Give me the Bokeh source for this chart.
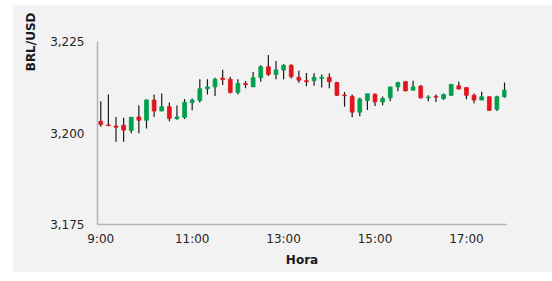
import numpy as np
from bokeh.plotting import figure
from bokeh.models import (ColumnDataSource, FixedTicker, Range1d, Title, Spacer,
                          CustomJSTickFormatter)
from bokeh.layouts import row, column
from bokeh.embed import file_html
from bokeh.resources import INLINE

# ---- data ----
times = ["9:00", "9:10", "9:20", "9:30", "9:40", "9:50",
         "10:00", "10:10", "10:20", "10:30", "10:40", "10:50",
         "11:00", "11:10", "11:20", "11:30", "11:40", "11:50",
         "12:00", "12:10", "12:20", "12:30", "12:40", "12:50",
         "13:00", "13:10", "13:20", "13:30", "13:40", "13:50",
         "14:00", "14:10", "14:20", "14:30", "14:40", "14:50",
         "15:00", "15:10", "15:20", "15:30", "15:40", "15:50",
         "16:00", "16:10", "16:20", "16:30", "16:40", "16:50",
         "17:00", "17:10", "17:20", "17:30", "17:40", "17:50"]

open_ = [3.2032, 3.2022, 3.2019, 3.2021, 3.2007, 3.2044, 3.2035, 3.2090, 3.2060, 3.2072,
         3.2039, 3.2043, 3.2083, 3.2089, 3.2121, 3.2126, 3.2150, 3.2147, 3.2111, 3.2135,
         3.2126, 3.2151, 3.2181, 3.2160, 3.2172, 3.2185, 3.2152, 3.2143, 3.2143, 3.2149,
         3.2152, 3.2138, 3.2104, 3.2100, 3.2057, 3.2089, 3.2106, 3.2085, 3.2096, 3.2126,
         3.2140, 3.2117, 3.2128, 3.2096, 3.2100, 3.2094, 3.2103, 3.2129, 3.2124, 3.2103,
         3.2090, 3.2099, 3.2065, 3.2099]
high = [3.2087, 3.2105, 3.2044, 3.2042, 3.2044, 3.2076, 3.2092, 3.2105, 3.2108, 3.2083,
        3.2075, 3.2093, 3.2094, 3.2147, 3.2147, 3.2151, 3.2173, 3.2154, 3.2147, 3.2142,
        3.2167, 3.2185, 3.2213, 3.2197, 3.2188, 3.2188, 3.2170, 3.2164, 3.2163, 3.2160,
        3.2163, 3.2140, 3.2112, 3.2105, 3.2096, 3.2107, 3.2108, 3.2100, 3.2126, 3.2140,
        3.2142, 3.2143, 3.2131, 3.2103, 3.2105, 3.2108, 3.2133, 3.2140, 3.2124, 3.2108,
        3.2113, 3.2099, 3.2102, 3.2138]
low = [3.2017, 3.2019, 3.1976, 3.1976, 3.1999, 3.1999, 3.2012, 3.2044, 3.2060, 3.2032,
       3.2036, 3.2038, 3.2062, 3.2083, 3.2105, 3.2101, 3.2131, 3.2108, 3.2105, 3.2122,
       3.2126, 3.2140, 3.2156, 3.2147, 3.2147, 3.2149, 3.2137, 3.2128, 3.2129, 3.2124,
       3.2122, 3.2101, 3.2072, 3.2043, 3.2046, 3.2063, 3.2074, 3.2076, 3.2087, 3.2114,
       3.2114, 3.2117, 3.2094, 3.2087, 3.2085, 3.2090, 3.2102, 3.2120, 3.2092, 3.2081,
       3.2090, 3.2060, 3.2060, 3.2096]
close = [3.2023, 3.2020, 3.2016, 3.2008, 3.2043, 3.2035, 3.2090, 3.2060, 3.2072, 3.2040,
         3.2044, 3.2084, 3.2090, 3.2121, 3.2126, 3.2147, 3.2146, 3.2111, 3.2135, 3.2132,
         3.2151, 3.2181, 3.2160, 3.2172, 3.2185, 3.2154, 3.2144, 3.2140, 3.2152, 3.2152,
         3.2140, 3.2103, 3.2102, 3.2057, 3.2093, 3.2107, 3.2085, 3.2094, 3.2126, 3.2138,
         3.2115, 3.2126, 3.2096, 3.2098, 3.2098, 3.2105, 3.2133, 3.2120, 3.2103, 3.2090,
         3.2099, 3.2062, 3.2099, 3.2117]

y_ticks = [3.175, 3.200, 3.225]
x_tick_labels = ["9:00", "11:00", "13:00", "15:00", "17:00"]


def to_min(s):
    h, m = s.split(":")
    return int(h) * 60 + int(m)


t = np.array([to_min(s) for s in times], dtype=float)
o = np.array(open_)
c = np.array(close)
up = c > o
colors = ["#00a04c" if u else "#e3141b" for u in up]

src = ColumnDataSource(dict(t=t, high=high, low=low,
                            top=np.maximum(o, c), bottom=np.minimum(o, c),
                            color=colors))

BG = "#f2f2f2"
LEFT_PAD = 12
W, H = 552 - 6 - LEFT_PAD - 8 + 8, 268
W = 506 + 46 - LEFT_PAD - 0  # frame right at page x 506, 46px right border
W = W - 0
p = figure(width=W - 0, height=H, output_backend="svg", toolbar_location=None,
           x_range=Range1d(535.7, 1072.6), y_range=Range1d(y_ticks[0], y_ticks[-1]),
           background_fill_color=BG, border_fill_color=BG,
           min_border_left=97 - LEFT_PAD, min_border_right=46, min_border_top=37,
           min_border_bottom=48)
p.outline_line_color = None
p.grid.visible = False

# soft shadow under bodies
p.vbar(x="t", width=5, top="top", bottom="bottom", source=src,
       fill_color="#000000", fill_alpha=0.12, line_color=None)
p.segment(x0="t", y0="low", x1="t", y1="high", source=src,
          line_color="#1a1a1a", line_width=1.2)
p.vbar(x="t", width=5, top="top", bottom="bottom", source=src,
       fill_color="color", line_color="color", line_width=0.8)

# axes
for ax in (p.xaxis[0], p.yaxis[0]):
    ax.axis_line_color = "#b3b3b3"
    ax.axis_line_width = 1.5
    ax.major_tick_line_color = None
    ax.minor_tick_line_color = None
    ax.major_tick_in = 0
    ax.major_tick_out = 0
    ax.major_label_text_font = "DejaVu Sans"
    ax.major_label_text_font_size = "12px"
    ax.major_label_text_color = "#262626"

p.yaxis.ticker = FixedTicker(ticks=y_ticks)
p.yaxis.formatter = CustomJSTickFormatter(code="return tick.toFixed(3).replace('.', ',');")
p.yaxis.major_label_standoff = 13

xt = [to_min(s) for s in x_tick_labels]
p.xaxis.ticker = FixedTicker(ticks=xt)
p.xaxis.major_label_overrides = {m: s for m, s in zip(xt, x_tick_labels)}
p.xaxis.major_label_standoff = 7
p.xaxis.axis_label = "Hora"
p.xaxis.axis_label_text_font = "DejaVu Sans"
p.xaxis.axis_label_text_font_size = "12px"
p.xaxis.axis_label_text_font_style = "bold"
p.xaxis.axis_label_text_color = "#1a1a1a"
p.xaxis.axis_label_standoff = 4

p.add_layout(Title(text="BRL/USD", align="right", offset=-29, standoff=19,
                   text_font="DejaVu Sans", text_font_size="12px", text_font_style="bold",
                   text_color="#1a1a1a"), "left")

layout = column(Spacer(width=W + LEFT_PAD, height=4),
                row(Spacer(width=LEFT_PAD, height=H), p))
open("out.html", "w").write(file_html(layout, INLINE))
